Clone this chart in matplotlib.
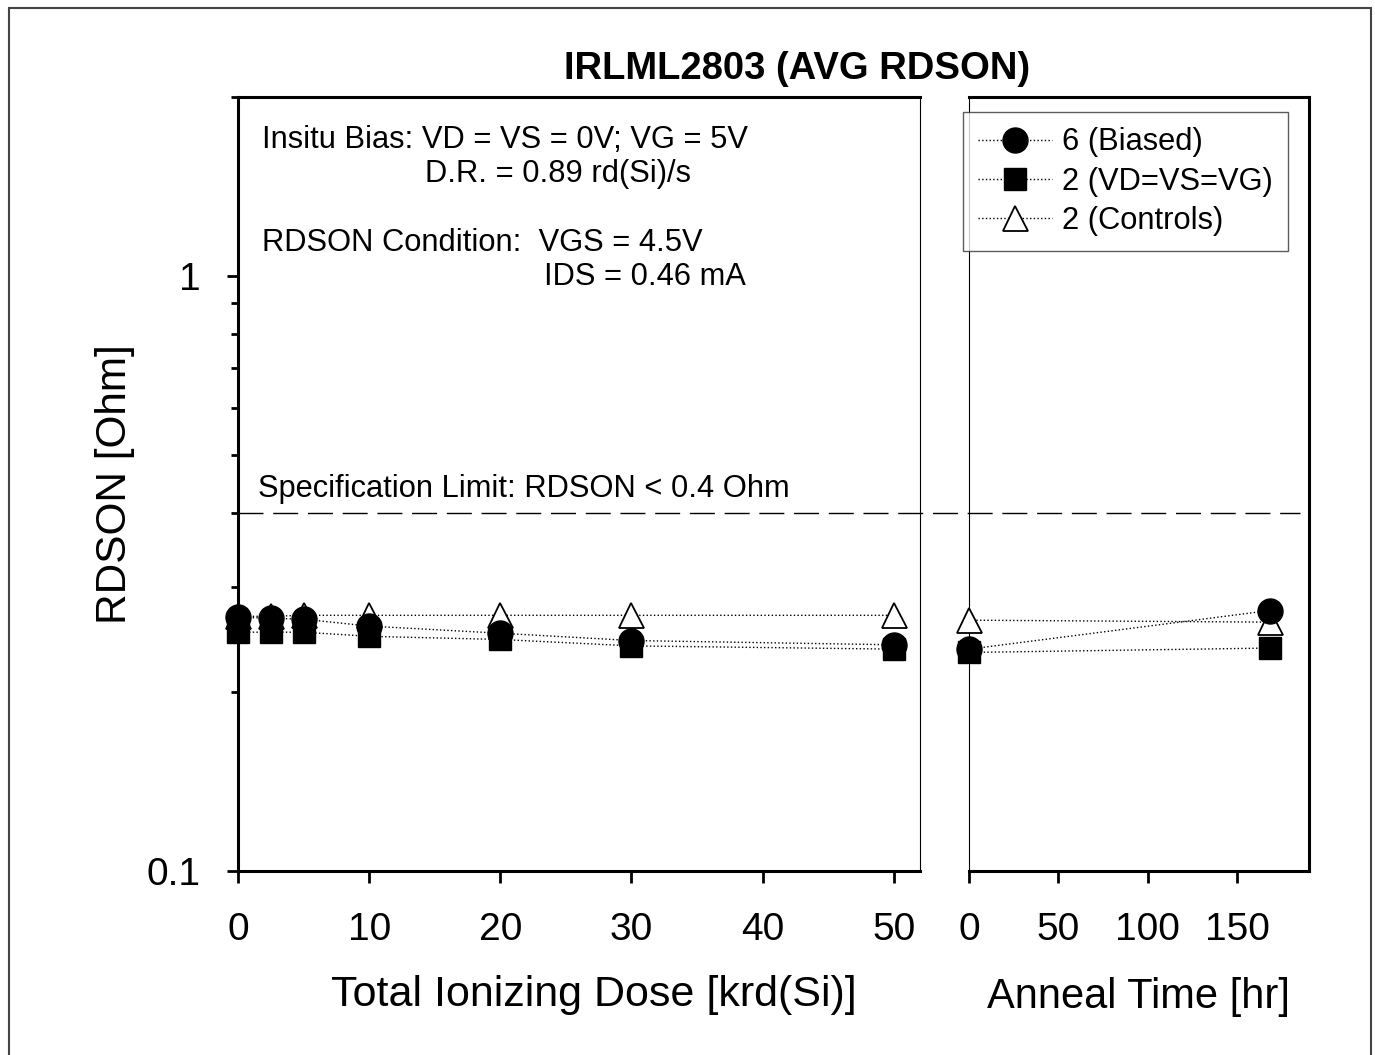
import matplotlib
matplotlib.use("Agg")
import matplotlib.pyplot as plt
from matplotlib.patches import Rectangle
from matplotlib.ticker import LogLocator, NullLocator, FixedLocator, FuncFormatter

plt.rcParams['font.family'] = ['Liberation Sans', 'DejaVu Sans']

# data
dose = [0, 2.5, 5, 10, 20, 30, 50]
biased = [0.267, 0.266, 0.265, 0.258, 0.251, 0.244, 0.240]
shorted = [0.252, 0.252, 0.252, 0.248, 0.245, 0.239, 0.236]
controls = [0.268, 0.268, 0.269, 0.269, 0.269, 0.269, 0.269]

anneal = [0, 168]
biased_an = [0.236, 0.274]
shorted_an = [0.233, 0.237]
controls_an = [0.264, 0.262]

spec_limit = 0.4
legend_labels = ['6 (Biased)', '2 (VD=VS=VG)', '2 (Controls)']

fig = plt.figure(figsize=(13.75, 10.55), dpi=100)
ax1 = fig.add_axes([0.1731, 0.1744, 0.4960, 0.7337])
ax2 = fig.add_axes([0.7047, 0.1744, 0.2473, 0.7337])
ax2.patch.set_visible(False)

def draw(ax, x, b, s, c):
    # triangles under squares under circles, like the original
    lc, = ax.plot(x, c, ':', color='black', lw=1, marker='^', ms=18,
                  mfc='white', mec='black', mew=1.3, clip_on=False, zorder=3)
    ls, = ax.plot(x, s, ':', color='black', lw=1, marker='s', ms=16,
                  mfc='black', mec='black', clip_on=False, zorder=4)
    lb, = ax.plot(x, b, ':', color='black', lw=1, marker='o', ms=18,
                  mfc='black', mec='black', clip_on=False, zorder=5)
    return lb, ls, lc

draw(ax1, dose, biased, shorted, controls)
handles = draw(ax2, anneal, biased_an, shorted_an, controls_an)

for ax in (ax1, ax2):
    ax.set_yscale('log')
    ax.set_ylim(0.1, 2.0)
    ax.tick_params(axis='x', direction='out', length=8.6, width=2, labelsize=28, pad=21)

ax1.set_xlim(0, 52)
ax1.set_xticks([0, 10, 20, 30, 40, 50])
ax2.set_xlim(0, 190)
ax2.set_xticks([0, 50, 100, 150])

ax1.yaxis.set_major_locator(FixedLocator([0.1, 1]))
ax1.yaxis.set_major_formatter(FuncFormatter(lambda v, p: '%g' % v))
ax1.yaxis.set_minor_locator(LogLocator(base=10, subs=range(2, 10)))
ax1.yaxis.set_minor_formatter(FuncFormatter(lambda v, p: ''))
ax1.tick_params(axis='y', which='major', direction='out', length=8, width=2, labelsize=28, pad=19)
ax1.tick_params(axis='y', which='minor', direction='out', length=5, width=2)

ax2.yaxis.set_major_locator(NullLocator())
ax2.yaxis.set_minor_locator(NullLocator())
ax2.tick_params(axis='y', which='both', left=False, labelleft=False)

# spines
for sp in ('left', 'bottom', 'top'):
    ax1.spines[sp].set_linewidth(2.2)
ax1.spines['right'].set_linewidth(0.8)
for sp in ('right', 'bottom', 'top'):
    ax2.spines[sp].set_linewidth(2.2)
ax2.spines['left'].set_linewidth(0.8)

# specification limit, runs across both panels
ax1.axhline(spec_limit, xmin=0, xmax=(1300 - 238) / 682, color='black', lw=1,
            dashes=(18, 7), clip_on=False, zorder=2)
ax1.text(0.029, 0.4935, 'Specification Limit: RDSON < 0.4 Ohm', transform=ax1.transAxes,
         fontsize=22.2, va='center', ha='left')

ax1.text(0.0352, 0.945, 'Insitu Bias: VD = VS = 0V; VG = 5V', transform=ax1.transAxes,
         fontsize=22.2, va='center', ha='left')
ax1.text(0.274, 0.901, 'D.R. = 0.89 rd(Si)/s', transform=ax1.transAxes,
         fontsize=22.2, va='center', ha='left')
ax1.text(0.0352, 0.811, 'RDSON Condition:  VGS = 4.5V', transform=ax1.transAxes,
         fontsize=22.2, va='center', ha='left')
ax1.text(0.449, 0.767, 'IDS = 0.46 mA', transform=ax1.transAxes,
         fontsize=22.2, va='center', ha='left')

ax1.set_ylabel('RDSON [Ohm]', fontsize=30.5, labelpad=8)
ax1.set_xlabel('Total Ionizing Dose [krd(Si)]', fontsize=31, labelpad=19)
ax1.xaxis.label.set_x(0.522)
ax2.set_xlabel('Anneal Time [hr]', fontsize=30, labelpad=21)

fig.text(0.580, 0.9345, 'IRLML2803 (AVG RDSON)', fontsize=27.5, fontweight='bold',
         ha='center', va='center')

leg = ax2.legend(handles, legend_labels, loc='upper left',
                 bbox_to_anchor=(963 / 1375, 1 - 112 / 1055), bbox_transform=fig.transFigure,
                 fontsize=22.2, frameon=True, fancybox=False, edgecolor='#333333',
                 handlelength=2.4, handletextpad=0.3, labelspacing=0.3,
                 borderpad=0.5, borderaxespad=0)
leg.get_frame().set_linewidth(1)

# outer frame of the picture
fig.patches.append(Rectangle((9 / 1375, -0.01), (1371 - 9) / 1375, 1.01 - 8 / 1055,
                             transform=fig.transFigure, fill=False, edgecolor='#444444', lw=1.5))

fig.savefig('out.png', dpi=100)
